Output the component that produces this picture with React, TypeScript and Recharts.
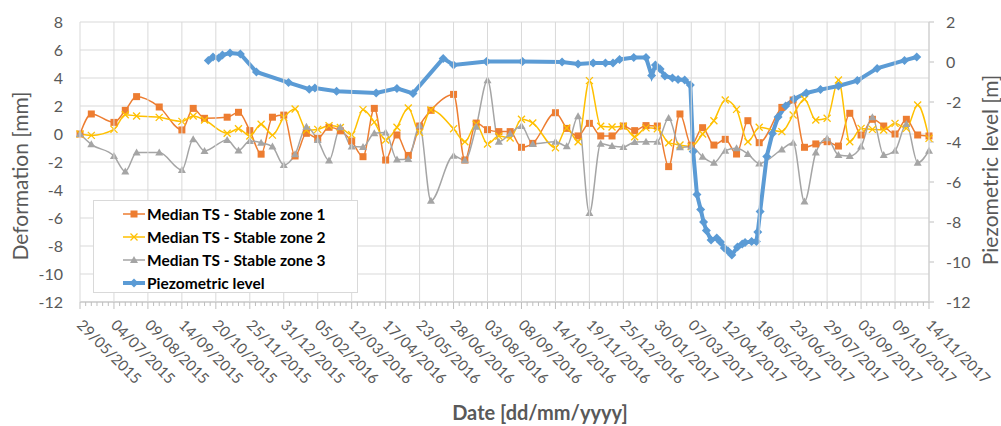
import React from "react";
import { LineChart, Line, XAxis, YAxis, CartesianGrid, Legend, Label } from "recharts";

// x values are days counted from 29/05/2015
const TICK_STEP = 36;
const MINOR_STEP = 6;
const X_END = 900;
const TICK_LABELS = [
  "29/05/2015", "04/07/2015", "09/08/2015", "14/09/2015", "20/10/2015", "25/11/2015",
  "31/12/2015", "05/02/2016", "12/03/2016", "17/04/2016", "23/05/2016", "28/06/2016",
  "03/08/2016", "08/09/2016", "14/10/2016", "19/11/2016", "25/12/2016", "30/01/2017",
  "07/03/2017", "12/04/2017", "18/05/2017", "23/06/2017", "29/07/2017", "03/09/2017",
  "09/10/2017", "14/11/2017",
];
const LEFT_TICKS = [-12, -10, -8, -6, -4, -2, 0, 2, 4, 6, 8];
const RIGHT_TICKS = [-12, -10, -8, -6, -4, -2, 0, 2];

const ZONE_DAYS = [
  0, 12, 36, 48, 60, 84, 108, 120, 132, 156, 168, 180, 192, 204, 216, 228, 240, 252,
  264, 276, 288, 300, 312, 324, 336, 348, 360, 372, 396, 408, 420, 432, 444, 456, 468, 480,
  504, 516, 528, 540, 552, 564, 576, 588, 600, 612, 624, 636, 648, 660, 672, 684, 696, 708,
  720, 744, 756, 768, 780, 792, 804, 816, 828, 840, 852, 864, 876, 888, 900,
];
const ZONE_1 = [
  0, 1.43, 0.83, 1.69, 2.67, 1.93, 0.29, 1.83, 1.12, 1.2, 1.55, 0.24, -1.44, 1.2, 1.35, -1.57, 0.05, -0.31,
  0.48, 0.23, -0.5, -1.62, 1.83, -1.86, -0.07, -1.53, 0.57, 1.69, 2.83, -1.86, 0.78, 0.31, 0.17, 0.17, -0.95, -0.67,
  1.52, 0.4, -0.14, 0.76, -0.14, -0.14, 0.57, 0.24, 0.6, 0.57, -2.33, 1.43, -0.8, 0.45, -0.79, -0.38, -1.43, 0.95,
  -0.62, 1.9, 2.43, -0.95, -0.71, -0.55, -0.86, 1.48, -0.07, 1.05, 0.57, 0, 1.05, -0.07, -0.14,
];
const ZONE_2 = [
  0, -0.1, 0.33, 1.38, 1.29, 1.19, 0.9, 1.29, 1.0, 0.05, 0.38, -0.14, 0.7, -0.08, 1.18, 1.78, 0.29, 0.33,
  0.6, 0.46, -0.05, 1.74, 0.85, -0.43, 0.48, 1.86, 0.1, 1.71, 0.37, -0.55, 0.7, -0.71, -0.15, -0.28, 1.05, 0.78,
  -0.98, 0.43, -0.55, 3.81, 0.55, 0.5, 0.55, -0.2, 0.44, 0.37, -0.62, -0.79, -0.9, 0, 0.95, 2.43, 1.76, -0.55,
  0.48, 0.17, 1.36, 2.48, 1.0, 1.12, 3.86, -0.55, 0.4, 0.33, 0.29, 0.76, 0.4, 2.07, -0.31,
];
const ZONE_3 = [
  0, -0.74, -1.57, -2.67, -1.33, -1.33, -2.57, -0.38, -1.21, -0.43, -1.17, -0.5, -0.62, -0.9, -2.21, -1.45, 0.52, -0.43,
  -1.9, 0.48, -0.9, -0.92, 0.05, 0.1, -1.83, -1.78, 0.6, -4.77, -1.56, -1.88, 0.52, 3.84, -0.55, 0.02, 0.57, -0.71,
  -0.55, -0.88, 1.26, -5.65, -0.7, -0.86, -0.92, -0.58, -0.55, -0.55, 1.15, -0.95, -0.9, -1.62, -2.05, -1.19, -1.02, -1.43,
  -2.1, -1.1, -0.62, -4.83, -1.33, -0.31, -1.5, -1.57, -0.9, 1.19, -1.5, -1.19, 0.71, -2.05, -1.19,
];

const PIEZO_DAYS = [
  136, 141, 147, 151, 159, 170, 187, 221, 243, 249, 272, 314, 336, 353, 385, 396, 431, 469,
  511, 528, 544, 557, 565, 572, 587, 600, 606, 610, 615, 620, 628, 634, 641, 647, 650, 654,
  658, 661, 664, 669, 675, 679, 683, 687, 691, 697, 702, 705, 712, 717, 718.5, 721, 728, 734,
  740, 748, 757, 770, 785, 804, 824, 845, 874, 887,
];
const PIEZO_LEVEL = [
  0.08, 0.25, 0.2, 0.35, 0.45, 0.4, -0.5, -1.03, -1.36, -1.3, -1.46, -1.55, -1.32, -1.57, 0.18, -0.15, 0.02, 0.02,
  0, -0.1, -0.05, -0.05, -0.05, 0.13, 0.23, 0.23, -0.68, -0.15, -0.35, -0.7, -0.8, -0.87, -0.9, -1.15, -4.48, -6.62,
  -7.38, -8.0, -8.43, -8.9, -8.8, -9.0, -9.3, -9.45, -9.65, -9.25, -9.1, -9.03, -8.98, -8.98, -8.5, -7.48, -4.72, -3.57,
  -2.75, -2.2, -1.85, -1.55, -1.38, -1.2, -0.93, -0.32, 0.08, 0.25,
];

const ORANGE = "#ED7D31";
const YELLOW = "#FFC000";
const GREY = "#A5A5A5";
const BLUE = "#5B9BD5";
const GRID = "#D9D9D9";
const FONT = "Lato, 'Liberation Sans', sans-serif";
const TEXT = "#595959";

const CHART_W = 1001;
const CHART_H = 426;
const MARGIN_TOP = 22;
const X_AXIS_H = 124;
const PLOT_H = CHART_H - MARGIN_TOP - X_AXIS_H;

const zone1 = ZONE_DAYS.map((day, i) => ({ day, v: ZONE_1[i] }));
const zone2 = ZONE_DAYS.map((day, i) => ({ day, v: ZONE_2[i] }));
const zone3 = ZONE_DAYS.map((day, i) => ({ day, v: ZONE_3[i] }));
const piezo = PIEZO_DAYS.map((day, i) => ({ day, v: PIEZO_LEVEL[i] }));

const minorTicks: number[] = [];
for (let d = 0; d <= X_END; d += MINOR_STEP) minorTicks.push(d);

function SquareMark({ cx, cy }: { cx: number; cy: number }) {
  return <rect x={cx - 3.5} y={cy - 3.5} width={7} height={7} fill={ORANGE} />;
}
function CrossMark({ cx, cy }: { cx: number; cy: number }) {
  return (
    <g stroke={YELLOW} strokeWidth={1.3}>
      <line x1={cx - 3.5} y1={cy - 3.5} x2={cx + 3.5} y2={cy + 3.5} />
      <line x1={cx - 3.5} y1={cy + 3.5} x2={cx + 3.5} y2={cy - 3.5} />
    </g>
  );
}
function TriangleMark({ cx, cy }: { cx: number; cy: number }) {
  return <polygon points={`${cx},${cy - 4} ${cx - 4},${cy + 3} ${cx + 4},${cy + 3}`} fill={GREY} />;
}
function DiamondMark({ cx, cy }: { cx: number; cy: number }) {
  return <polygon points={`${cx},${cy - 4.5} ${cx + 4.5},${cy} ${cx},${cy + 4.5} ${cx - 4.5},${cy}`} fill={BLUE} />;
}

const dotOf = (Mark: typeof SquareMark) => (p: any) =>
  <Mark key={`d-${p.index}`} cx={p.cx} cy={p.cy} />;

// tick: minor/major tick mark, a gridline up the plot at major dates, rotated label
function XTick(props: any) {
  const { x, y, payload } = props;
  const v = payload.value as number;
  const major = v % TICK_STEP === 0;
  const tx = x - 4;
  const ty = y + 24;
  return (
    <g>
      {major && <line x1={x} y1={y} x2={x} y2={y - PLOT_H} stroke={GRID} strokeWidth={1} />}
      <line x1={x} y1={y} x2={x} y2={y + (major ? 7 : 4)} stroke="#BFBFBF" />
      {major && (
        <text x={tx} y={ty} transform={`rotate(45 ${tx} ${ty})`} fontSize={15} fill={TEXT} fontFamily={FONT}>
          {TICK_LABELS[v / TICK_STEP]}
        </text>
      )}
    </g>
  );
}

const LEGEND_ITEMS = [
  { name: "Median TS - Stable zone 1", color: ORANGE, Mark: SquareMark, width: 1.5 },
  { name: "Median TS - Stable zone 2", color: YELLOW, Mark: CrossMark, width: 1.5 },
  { name: "Median TS - Stable zone 3", color: GREY, Mark: TriangleMark, width: 1.5 },
  { name: "Piezometric level", color: BLUE, Mark: DiamondMark, width: 4 },
];

function LegendBox() {
  return (
    <div
      style={{
        boxSizing: "border-box", width: 265, height: 93, background: "#fff",
        border: `1px solid ${GRID}`, paddingTop: 1, fontFamily: FONT,
      }}
    >
      {LEGEND_ITEMS.map((it) => (
        <div key={it.name} style={{ display: "flex", alignItems: "center", height: 23 }}>
          <svg width={22} height={12} style={{ marginLeft: 29, marginRight: 2 }}>
            <line x1={0} y1={6} x2={22} y2={6} stroke={it.color} strokeWidth={it.width} />
            <it.Mark cx={11} cy={6} />
          </svg>
          <span style={{ fontSize: 15.5, fontWeight: 700, color: "#000", whiteSpace: "nowrap" }}>{it.name}</span>
        </div>
      ))}
    </div>
  );
}

export default function App() {
  return (
    <div style={{ position: "absolute", left: 0, top: 0, background: "#fff" }}>
      <LineChart width={CHART_W} height={CHART_H} margin={{ top: MARGIN_TOP, right: 0, bottom: 0, left: 0 }}>
        <CartesianGrid xAxisId="main" yAxisId="left" stroke={GRID} vertical={false} />
        <XAxis
          xAxisId="main" dataKey="day" type="number" domain={[0, X_END]} ticks={minorTicks}
          interval={0} height={X_AXIS_H} tickSize={0} tickMargin={0} tickLine={false}
          axisLine={{ stroke: "#BFBFBF" }} tick={<XTick />}
        >
          <Label
            content={() => (
              <text x={540} y={420} textAnchor="middle" fontSize={20} fontWeight={700} fill={TEXT} fontFamily={FONT}>
                Date [dd/mm/yyyy]
              </text>
            )}
          />
        </XAxis>
        <YAxis
          yAxisId="left" domain={[-12, 8]} ticks={LEFT_TICKS} width={80} axisLine={false}
          tickLine={false} tickSize={0} tickMargin={17}
          tick={{ fill: TEXT, fontSize: 16, fontFamily: FONT }}
        >
          <Label
            content={() => (
              <text x={28} y={176} transform="rotate(-90 28 176)" textAnchor="middle" fontSize={21} fill={TEXT} fontFamily={FONT}>
                Deformation [mm]
              </text>
            )}
          />
        </YAxis>
        <YAxis
          yAxisId="right" orientation="right" domain={[-12, 2]} ticks={RIGHT_TICKS} width={72}
          axisLine={{ stroke: "#BFBFBF" }} tickLine={{ stroke: "#BFBFBF" }} tickSize={5} tickMargin={12}
          tick={{ fill: TEXT, fontSize: 16, fontFamily: FONT, textAnchor: "start" }}
        >
          <Label
            content={() => (
              <text x={998} y={170} transform="rotate(-90 998 170)" textAnchor="middle" fontSize={21} fill={TEXT} fontFamily={FONT}>
                Piezometric level [m]
              </text>
            )}
          />
        </YAxis>
        <Legend
          layout="vertical" align="center" verticalAlign="middle"
          wrapperStyle={{ left: 93, top: 200, width: 265, height: 93 }}
          content={() => <LegendBox />}
        />
        <Line data={zone1} dataKey="v" name="Median TS - Stable zone 1" xAxisId="main" yAxisId="left"
          type="monotone" stroke={ORANGE} strokeWidth={1.5} dot={dotOf(SquareMark)} activeDot={false} isAnimationActive={false} />
        <Line data={zone2} dataKey="v" name="Median TS - Stable zone 2" xAxisId="main" yAxisId="left"
          type="monotone" stroke={YELLOW} strokeWidth={1.5} dot={dotOf(CrossMark)} activeDot={false} isAnimationActive={false} />
        <Line data={zone3} dataKey="v" name="Median TS - Stable zone 3" xAxisId="main" yAxisId="left"
          type="monotone" stroke={GREY} strokeWidth={1.5} dot={dotOf(TriangleMark)} activeDot={false} isAnimationActive={false} />
        <Line data={piezo} dataKey="v" name="Piezometric level" xAxisId="main" yAxisId="right"
          type="linear" stroke={BLUE} strokeWidth={4} dot={dotOf(DiamondMark)} activeDot={false} isAnimationActive={false} />
      </LineChart>
    </div>
  );
}
